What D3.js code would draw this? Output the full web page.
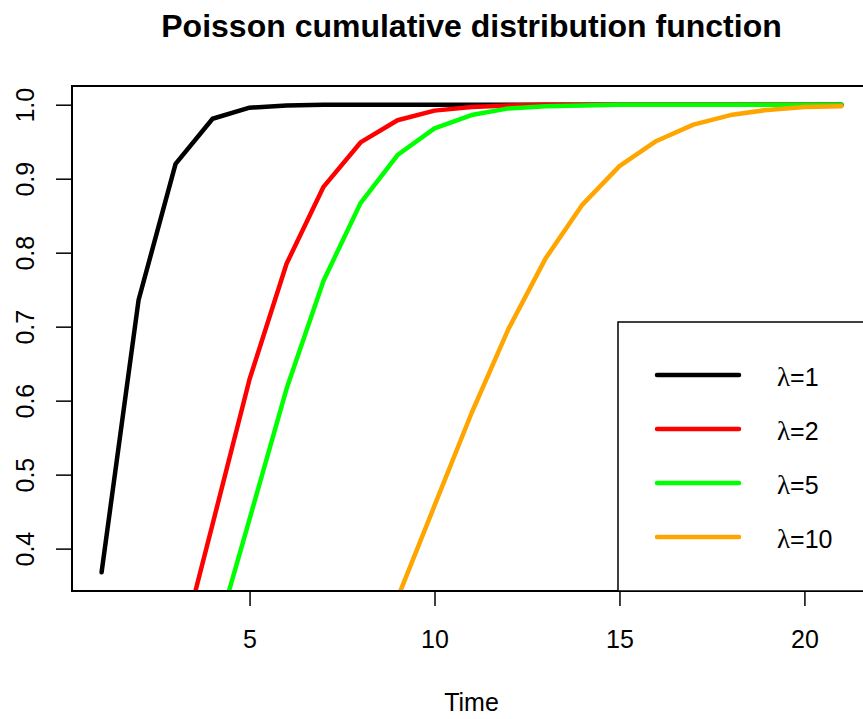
<!DOCTYPE html>
<html>
<head>
<meta charset="utf-8">
<script src="https://cdn.jsdelivr.net/npm/d3@7"></script>
<style>
  html, body { margin: 0; padding: 0; background: #fff; }
  svg { display: block; font-family: "Liberation Sans", Arial, sans-serif; }
</style>
</head>
<body>
<svg id="chart" width="863" height="719"></svg>
<script>
// Cumulative probabilities at Time = 1..21
const times = d3.range(1, 22);
const seriesNames = ["λ=1", "λ=2", "λ=5", "λ=10"];
const seriesColors = ["#000000", "#ff0000", "#00ff00", "#ffa500"];
const lambda1 = [0.368, 0.736, 0.920, 0.981, 0.996, 0.999, 1.000, 1.000, 1.000, 1.000, 1.000,
                 1.000, 1.000, 1.000, 1.000, 1.000, 1.000, 1.000, 1.000, 1.000, 1.000];
const lambda2 = [0.018, 0.092, 0.238, 0.433, 0.629, 0.785, 0.889, 0.949, 0.979, 0.992, 0.997,
                 0.999, 1.000, 1.000, 1.000, 1.000, 1.000, 1.000, 1.000, 1.000, 1.000];
const lambda5 = [0.007, 0.040, 0.125, 0.265, 0.440, 0.616, 0.762, 0.867, 0.932, 0.968, 0.986,
                 0.995, 0.998, 0.999, 1.000, 1.000, 1.000, 1.000, 1.000, 1.000, 1.000];
const lambda10 = [0.000, 0.001, 0.003, 0.010, 0.029, 0.067, 0.130, 0.220, 0.333, 0.458, 0.583,
                  0.697, 0.792, 0.865, 0.917, 0.951, 0.973, 0.986, 0.993, 0.997, 0.998];
const seriesValues = [lambda1, lambda2, lambda5, lambda10];
const xTicks = [5, 10, 15, 20];
const yTicks = [0.4, 0.5, 0.6, 0.7, 0.8, 0.9, 1.0];

const svg = d3.select("#chart");
const plot = { left: 72, right: 871, top: 86, bottom: 591 };

// Axis ranges padded by 4% around the data, as in base graphics
const xPad = (21 - 1) * 0.04;
const yMin = d3.min(lambda1), yMax = d3.max(lambda1);
const yPad = (yMax - yMin) * 0.04;
const x = d3.scaleLinear().domain([1 - xPad, 21 + xPad]).range([plot.left, plot.right]);
const y = d3.scaleLinear().domain([yMin - yPad, yMax + yPad]).range([plot.bottom, plot.top]);

svg.append("defs").append("clipPath").attr("id", "plotclip")
  .append("rect")
  .attr("x", plot.left).attr("y", plot.top)
  .attr("width", plot.right - plot.left).attr("height", plot.bottom - plot.top);

// Title
svg.append("text")
  .attr("x", (plot.left + plot.right) / 2).attr("y", 37)
  .attr("text-anchor", "middle")
  .attr("font-weight", "bold").attr("font-size", 32)
  .attr("fill", "#000")
  .text("Poisson cumulative distribution function");

// Curves
const line = d3.line().x((d, i) => x(times[i])).y(d => y(d));
const curves = svg.append("g").attr("clip-path", "url(#plotclip)");
seriesValues.forEach((vals, i) => {
  curves.append("path")
    .attr("d", line(vals))
    .attr("fill", "none")
    .attr("stroke", seriesColors[i])
    .attr("stroke-width", 4.5)
    .attr("stroke-linejoin", "round")
    .attr("stroke-linecap", "round");
});

// Axes
const xAxis = svg.append("g").attr("transform", `translate(0,${plot.bottom})`)
  .call(d3.axisBottom(x).tickValues(xTicks).tickSize(15).tickPadding(24).tickFormat(d3.format("d")));
const yAxis = svg.append("g").attr("transform", `translate(${plot.left},0)`)
  .call(d3.axisLeft(y).tickValues(yTicks).tickSize(16).tickFormat(d3.format(".1f")));
[xAxis, yAxis].forEach(g => {
  g.select(".domain").remove();
  g.selectAll(".tick line").attr("stroke", "#000").attr("stroke-width", 1.5);
  g.selectAll(".tick text").attr("fill", "#000").attr("font-size", 25)
    .attr("font-family", "'Liberation Sans', Arial, sans-serif");
});
yAxis.selectAll(".tick text")
  .attr("x", null).attr("dy", null)
  .attr("text-anchor", "middle")
  .attr("transform", "translate(-47,0) rotate(-90)")
  .attr("dy", "0.35em");

// Plot frame
svg.append("rect")
  .attr("x", plot.left).attr("y", plot.top)
  .attr("width", plot.right - plot.left).attr("height", plot.bottom - plot.top)
  .attr("fill", "none").attr("stroke", "#000").attr("stroke-width", 2);

// X axis title
svg.append("text")
  .attr("x", (plot.left + plot.right) / 2).attr("y", 711)
  .attr("text-anchor", "middle").attr("font-size", 25).attr("fill", "#000")
  .text("Time");

// Legend in the bottom-right corner
const legend = svg.append("g");
legend.append("rect")
  .attr("x", 618).attr("y", 322)
  .attr("width", plot.right - 618).attr("height", plot.bottom - 322)
  .attr("fill", "#fff").attr("stroke", "#000").attr("stroke-width", 1.5);
seriesNames.forEach((name, i) => {
  const ry = 375 + i * 54;
  legend.append("line")
    .attr("x1", 657).attr("x2", 739).attr("y1", ry).attr("y2", ry)
    .attr("stroke", seriesColors[i]).attr("stroke-width", 4.5)
    .attr("stroke-linecap", "round");
  const t = legend.append("text")
    .attr("x", 777).attr("y", ry + 2)
    .attr("dominant-baseline", "central")
    .attr("font-size", 25).attr("fill", "#000");
  // Greek letter set in a serif face, the rest in sans
  t.append("tspan").attr("font-family", "'Liberation Serif', 'DejaVu Serif', serif")
    .attr("font-size", 27).text(name.slice(0, 1));
  t.append("tspan").text(name.slice(1));
});
</script>
</body>
</html>
